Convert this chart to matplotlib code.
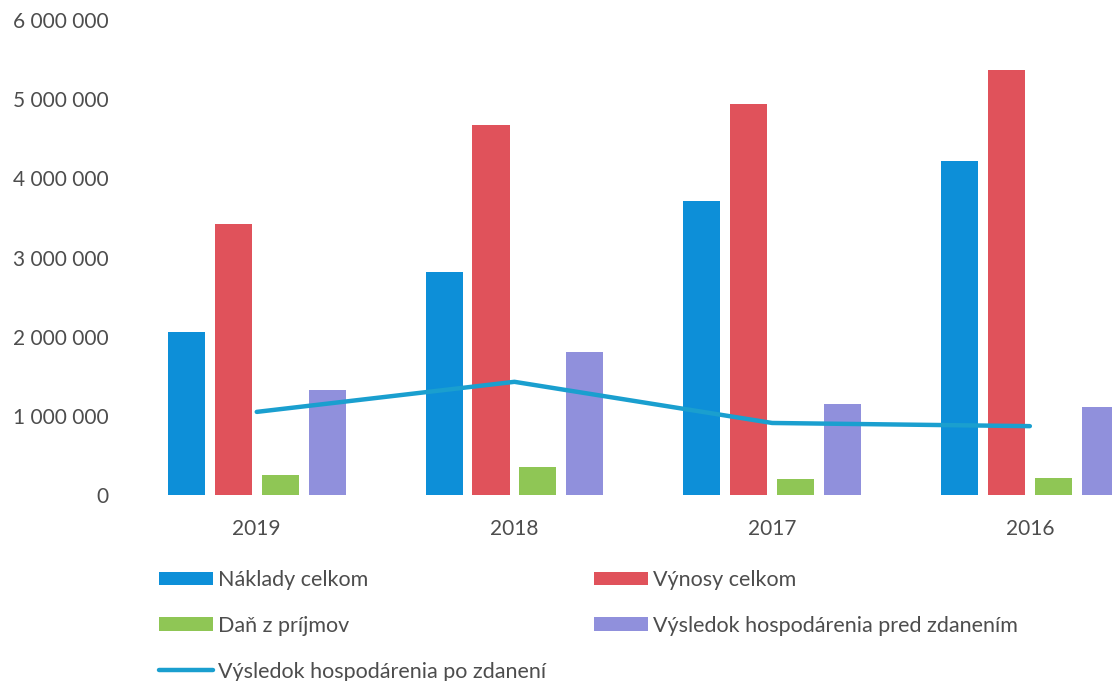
import numpy as np
import matplotlib.pyplot as plt
from matplotlib.ticker import FuncFormatter

# data
years = ['2019', '2018', '2017', '2016']
naklady = [2060000, 2820000, 3720000, 4220000]
vynosy = [3420000, 4670000, 4940000, 5370000]
dan = [250000, 350000, 200000, 220000]
pred_zdanenim = [1330000, 1810000, 1150000, 1110000]
po_zdaneni = [1050000, 1430000, 910000, 870000]

plt.rcParams['font.family'] = ['Lato', 'DejaVu Sans']
TEXT = '#4d4d4d'

fig = plt.figure(figsize=(11.12, 6.81), dpi=100)
ax = fig.add_axes([0.115, 0.2731, 0.927, 0.6975])

x = np.arange(len(years))
w = 0.144
step = 0.182
b1 = ax.bar(x - 1.5 * step, naklady, w, color='#0d8fd8', label='Náklady celkom')
b2 = ax.bar(x - 0.5 * step, vynosy, w, color='#e0525b', label='Výnosy celkom')
b3 = ax.bar(x + 0.5 * step, dan, w, color='#8fc655', label='Daň z príjmov')
b4 = ax.bar(x + 1.5 * step, pred_zdanenim, w, color='#9090dc',
            label='Výsledok hospodárenia pred zdanením')
ln, = ax.plot(x, po_zdaneni, color='#1a9fcf', lw=3.2, solid_capstyle='round',
              zorder=3, label='Výsledok hospodárenia po zdanení')

ax.set_xlim(-0.5, 3.5)
ax.set_ylim(0, 6000000)
ax.set_yticks(np.arange(0, 6000001, 1000000))
ax.yaxis.set_major_formatter(FuncFormatter(lambda v, p: f'{int(v):,}'.replace(',', ' ')))
ax.set_xticks(x)
ax.set_xticklabels(years)
ax.tick_params(length=0, labelsize=15, colors=TEXT)
ax.tick_params(axis='y', pad=14)
ax.tick_params(axis='x', pad=17)
for s in ax.spines.values():
    s.set_visible(False)

leg = fig.legend([b1, b3, ln, b2, b4],
                 [b1.get_label(), b3.get_label(), ln.get_label(),
                  b2.get_label(), b4.get_label()],
                 ncol=2, loc='upper left', bbox_to_anchor=(0.143, 0.163),
                 frameon=False, fontsize=15.5, handlelength=2.5,
                 handleheight=0.6, handletextpad=0.25, labelspacing=1.2,
                 columnspacing=2.2, borderaxespad=0, borderpad=0)
for t in leg.get_texts():
    t.set_color(TEXT)

fig.savefig('out.png', dpi=100)
